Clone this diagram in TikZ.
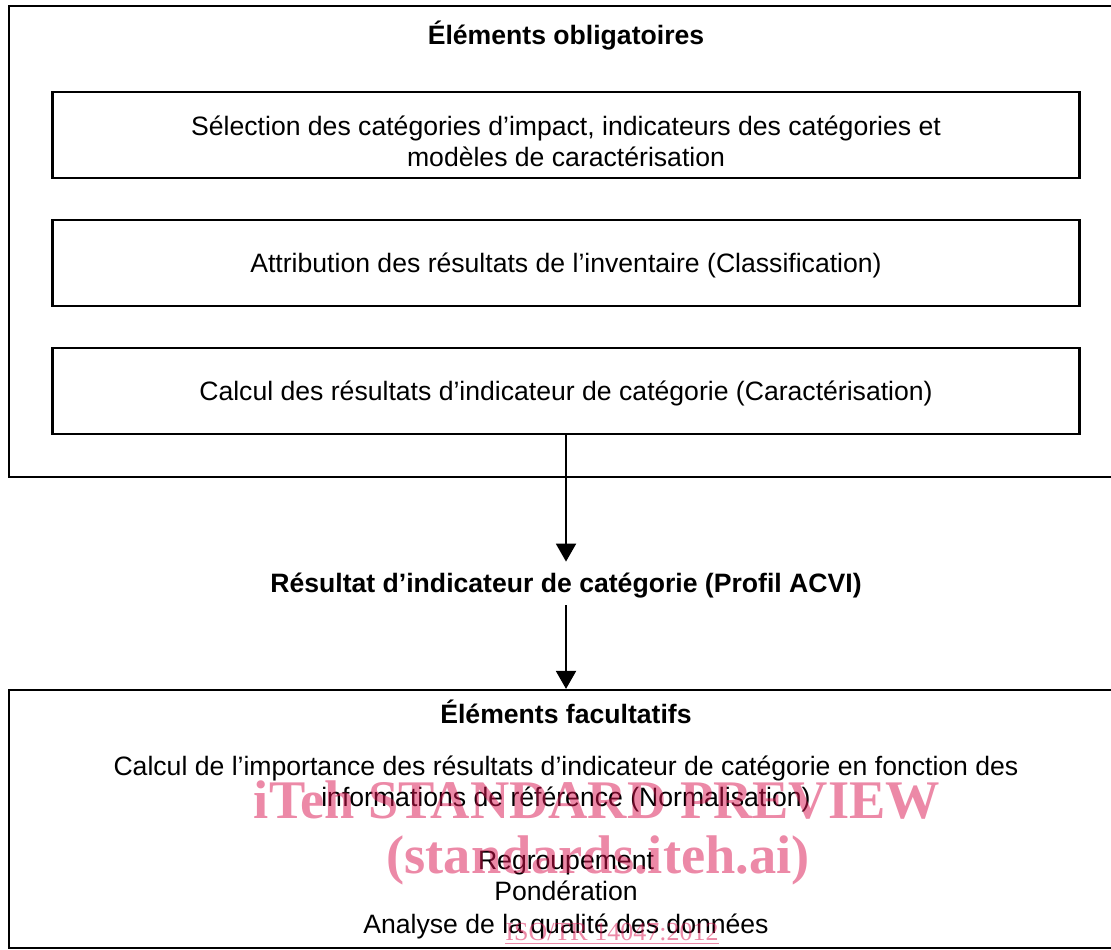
\documentclass[tikz,border=0pt]{standalone}
\usepackage{fontspec}
\setmainfont{Liberation Sans}
\newfontfamily\wmfont{Liberation Serif}
\usetikzlibrary{arrows.meta}
\definecolor{wmpink}{RGB}{217,19,79}

\begin{document}
\begin{tikzpicture}[x=0.5pt, y=-0.5pt,
    every node/.style={font=\fontsize{13.3pt}{15.5pt}\selectfont},
    outerbox/.style={draw, line width=1.1pt, inner sep=0pt, minimum width=557pt},
    innerbox/.style={draw, line width=1.1pt, inner sep=0pt, minimum width=513.5pt, minimum height=43pt,
      align=center, text height=9.5pt, text depth=0pt},
    title/.style={anchor=base, font=\fontsize{13.3pt}{15.5pt}\selectfont\bfseries},
    line/.style={anchor=base},
    flow/.style={-{Triangle[width=10pt, length=9pt]}, line width=1pt},
    wm/.style={anchor=base, text=wmpink, text opacity=0.5, font=\wmfont\bfseries\fontsize{27.2pt}{30pt}\selectfont}]
  \clip (0,0) rectangle (1111,949);

  \node[outerbox, minimum height=235.5pt] (mand) at (566,241.5) {};
  \node[title] (mandt) at (566,44) {Éléments obligatoires};
  \node[innerbox, text height=31pt] (sel) at (566,135) {Sélection des catégories d’impact, indicateurs des catégories et\\modèles de caractérisation};
  \node[innerbox] (attr) at (566,263) {Attribution des résultats de l’inventaire (Classification)};
  \node[innerbox] (calc) at (566,391) {Calcul des résultats d’indicateur de catégorie (Caractérisation)};

  \node[title, text height=9pt, text depth=0.5pt, inner ysep=6pt] (res) at (566,592) {Résultat d’indicateur de catégorie (Profil ACVI)};

  \node[outerbox, minimum height=129pt] (opt) at (566,819) {};
  \node[title] (optt) at (566,723) {Éléments facultatifs};
  \node[line] (norm1) at (566,775) {Calcul de l’importance des résultats d’indicateur de catégorie en fonction des};
  \node[line] (norm2) at (566,806) {informations de référence (Normalisation)};
  \node[line] (grp) at (566,869) {Regroupement};
  \node[line] (pond) at (566,900) {Pondération};
  \node[line] (qual) at (566,933) {Analyse de la qualité des données};

  \draw[flow] (calc.south) -- (res.north);
  \draw[flow] (res.south) -- (opt.north);

  \node[wm] (wm1) at (597,818) {iTeh STANDARD PREVIEW};
  \node[wm] (wm2) at (598,873) {(standards.iteh.ai)};
  \node[wm, font=\wmfont\fontsize{13pt}{15pt}\selectfont] (wm3) at (612,940) {\underline{ISO/TR 14047:2012}};
\end{tikzpicture}
\end{document}
